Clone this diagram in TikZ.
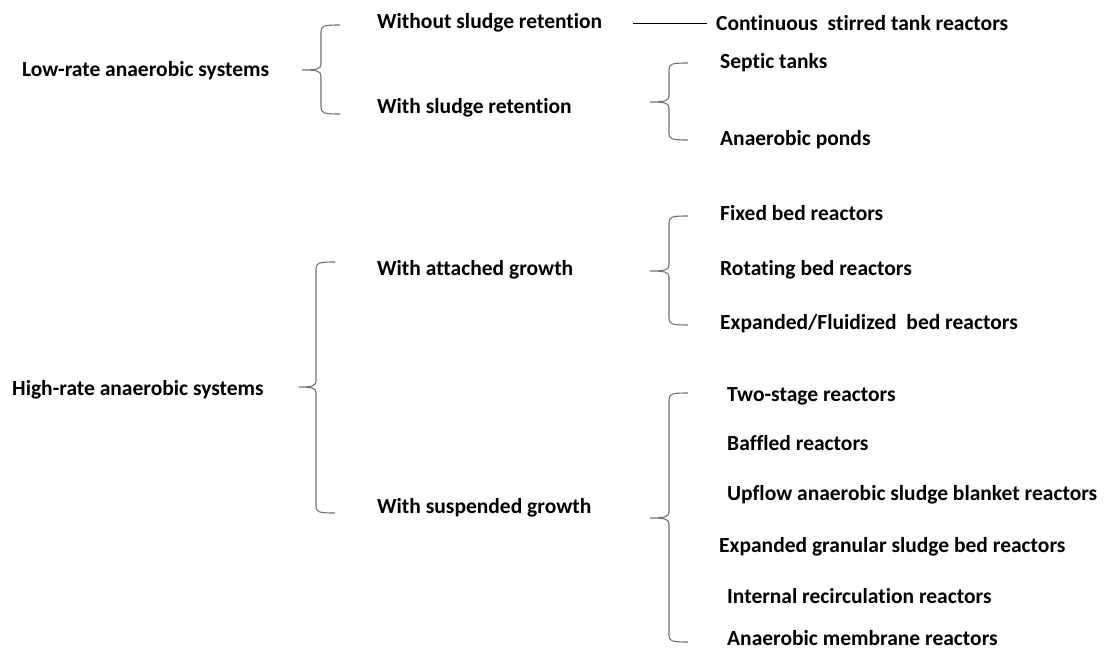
\documentclass[tikz,border=0pt]{standalone}
\usepackage{fontspec}
\setmainfont{Carlito}[Ligatures=NoCommon]
\newcommand{\mybrace}[5]{% x, top, tip, bottom, left
  \draw[bracestyle] ({#1+19},#2) .. controls ({#1+2},{#2}) and (#1,{#2+1}) .. (#1,{#2+7})
    -- (#1,{#3-6}) .. controls (#1,{#3-1}) and ({#1-4},#3) .. (#5,#3)
    .. controls ({#1-4},#3) and (#1,{#3+1}) .. (#1,{#3+6})
    -- (#1,{#4-7}) .. controls (#1,{#4-1}) and ({#1+2},#4) .. ({#1+19},#4);}
\begin{document}
\begin{tikzpicture}[x=1pt,y=-1pt,
  lbl/.style={anchor=base west,inner sep=0pt,font=\fontsize{21.5}{24}\selectfont\bfseries},
  bracestyle/.style={draw=black!55,line width=1.1pt},
  link/.style={draw=black,line width=0.8pt}]
\useasboundingbox[fill=white] (0,0) rectangle (1106,650);
% level 1
\node[lbl] (low) at (22,77) {Low-rate anaerobic systems};
\node[lbl] (high) at (12,395) {High-rate anaerobic systems};
% level 2
\node[lbl] (wsr) at (377,29) {Without sludge retention};
\node[lbl] (wr) at (377,114) {With sludge retention};
\node[lbl] (ag) at (377,275) {With attached growth};
\node[lbl] (sg) at (377,513) {With suspended growth};
% level 3
\node[lbl] (cstr) at (716,31) {Continuous\ \ stirred tank reactors};
\node[lbl] (sept) at (720,69) {Septic tanks};
\node[lbl] (pond) at (720,146) {Anaerobic ponds};
\node[lbl] (fbr) at (720,220) {Fixed bed reactors};
\node[lbl] (rbr) at (720,275) {Rotating bed reactors};
\node[lbl] (efb) at (720,329) {Expanded/Fluidized\ \ bed reactors};
\node[lbl] (two) at (727,401) {Two-stage reactors};
\node[lbl] (baf) at (727,450) {Baffled reactors};
\node[lbl] (uasb) at (727,500) {Upflow anaerobic sludge blanket reactors};
\node[lbl] (egsb) at (719,552) {Expanded granular sludge bed reactors};
\node[lbl] (irr) at (727,603) {Internal recirculation reactors};
\node[lbl] (amr) at (727,645) {Anaerobic membrane reactors};
% connectors
\coordinate (l1a) at (633,23);
\coordinate (l1b) at (707,23);
\draw[link] (l1a) -- (l1b);
\mybrace{321}{25}{70}{114}{302}
\mybrace{669}{63}{102}{140}{650}
\mybrace{316}{262}{387}{513}{299}
\mybrace{669}{216}{271}{325}{650}
\mybrace{669}{393}{518}{642}{650}
\end{tikzpicture}
\end{document}
